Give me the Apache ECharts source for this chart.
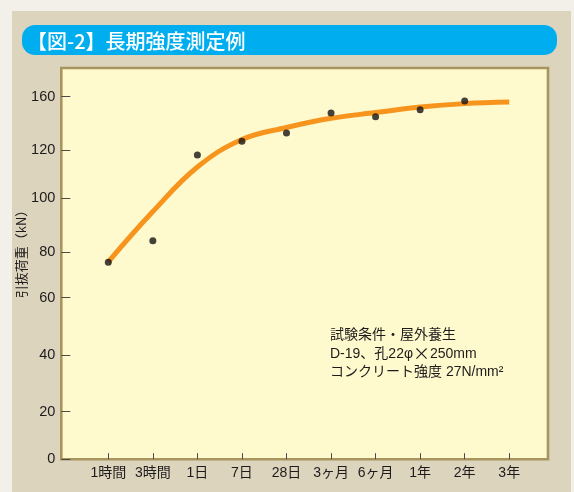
<!DOCTYPE html>
<html><head><meta charset="utf-8">
<script src="https://cdn.jsdelivr.net/npm/echarts@6/dist/echarts.min.js"></script>
<style>
html,body{margin:0;padding:0;background:#f3f0ea;overflow:hidden;}
#panel{position:absolute;left:12px;top:11px;width:559px;height:481px;background:#ddd4be;}
#c{position:absolute;left:0;top:0;width:574px;height:492px;}
</style>
</head><body><div id="panel"></div><div id="c"></div>
<script>
// ---- data ----
const categories = ['1時間','3時間','1日','7日','28日','3ヶ月','6ヶ月','1年','2年','3年'];
const measured = [75.6, 84.3, 117.9, 126.5, 132.8, 147.8, 145.0, 150.2, 156.8];   // kN, dots
const trend = [75.8, 95.0, 112.9, 127.9, 136.9, 143.8, 148.1, 152.2, 154.8, 156.0]; // kN, fitted curve
const yTickLabels = [0, 20, 40, 60, 80, 100, 120, 160];
const titleText = '【図-2】長期強度測定例';
const yName = '引抜荷重（kN）';
const noteLines = ['試験条件・屋外養生', 'D-19、孔22φ{x|×}250mm', 'コンクリート強度 27N/mm²'];

// ---- layout: the printed y scale is not uniform; where each labelled value sits (px above the axis) ----
const Y_LABEL_OFFSETS = [0, 47.5, 104.2, 161.5, 206.9, 261.2, 309.2, 362.5];
function yScale(v) {
  const t = yTickLabels, p = Y_LABEL_OFFSETS;
  let i = 0;
  while (i < t.length - 2 && v > t[i + 1]) i++;
  return p[i] + (v - t[i]) / (t[i + 1] - t[i]) * (p[i + 1] - p[i]);
}
const FONT = '"Liberation Sans", "Noto Sans CJK JP", sans-serif';
const CJK = '"Noto Sans CJK JP", sans-serif';
const INK = '#1e1b1c';

const chart = echarts.init(document.getElementById('c'), null, {renderer: 'canvas'});
chart.setOption({
  animation: false,
  backgroundColor: 'transparent',
  grid: {
    left: 61.3, right: 26, top: 68, bottom: 32.8,
    show: true, backgroundColor: '#fffacd', borderColor: '#a8955e', borderWidth: 2.6
  },
  xAxis: {
    type: 'value', min: -1.055, max: 9.87,
    axisLine: {show: false, onZero: false}, splitLine: {show: false},
    axisTick: {show: true, inside: true, length: 6, lineStyle: {color: '#4a4a4a', width: 1},
      customValues: categories.map((c, i) => i)},
    axisLabel: {show: true, margin: 7, color: INK, fontSize: 14, fontFamily: FONT,
      customValues: categories.map((c, i) => i),
      formatter: v => categories[Math.round(v)] || ''}
  },
  yAxis: {
    type: 'value', min: 0, max: 391.2,
    axisLine: {show: false, onZero: false}, splitLine: {show: false},
    axisTick: {show: true, inside: true, length: 9, lineStyle: {color: '#4a4a4a', width: 1},
      customValues: yTickLabels.map(yScale)},
    axisLabel: {show: true, margin: 6, color: INK, fontSize: 14.5, fontFamily: FONT,
      customValues: yTickLabels.map(yScale),
      formatter: v => {
        let best = 0;
        yTickLabels.forEach((t, i) => { if (Math.abs(yScale(t) - v) < Math.abs(yScale(yTickLabels[best]) - v)) best = i; });
        return String(yTickLabels[best]);
      }}
  },
  series: [
    {type: 'line', smooth: 0.4, symbol: 'none', z: 2,
      lineStyle: {color: '#f7941d', width: 5, cap: 'butt'},
      data: trend.map((v, i) => [i, yScale(v)])},
    {type: 'scatter', symbol: 'circle', symbolSize: 7, z: 3,
      itemStyle: {color: '#151314'},
      data: measured.map((v, i) => [i, yScale(v)])}
  ],
  graphic: [
    {type: 'rect', left: 22, top: 25, shape: {width: 535, height: 30, r: 13}, style: {fill: '#00aeef'}},
    {type: 'text', x: 27, y: 41, style: {text: titleText, fill: '#ffffff', fontSize: 20, fontWeight: 500, fontFamily: CJK,
      verticalAlign: 'middle', align: 'left'}},
    {type: 'text', x: 21, y: 251, rotation: Math.PI / 2,
      style: {text: yName, fill: INK, fontSize: 13, fontFamily: CJK, align: 'center', verticalAlign: 'middle'}},
    {type: 'text', x: 330, y: 354, style: {text: noteLines.join('\n'), fill: INK, fontSize: 14, lineHeight: 18.5,
      fontFamily: FONT, verticalAlign: 'middle', align: 'left',
      rich: {x: {fontSize: 17, fontFamily: CJK, lineHeight: 18.5, fill: INK}}}}
  ]
});
</script>
</body></html>
